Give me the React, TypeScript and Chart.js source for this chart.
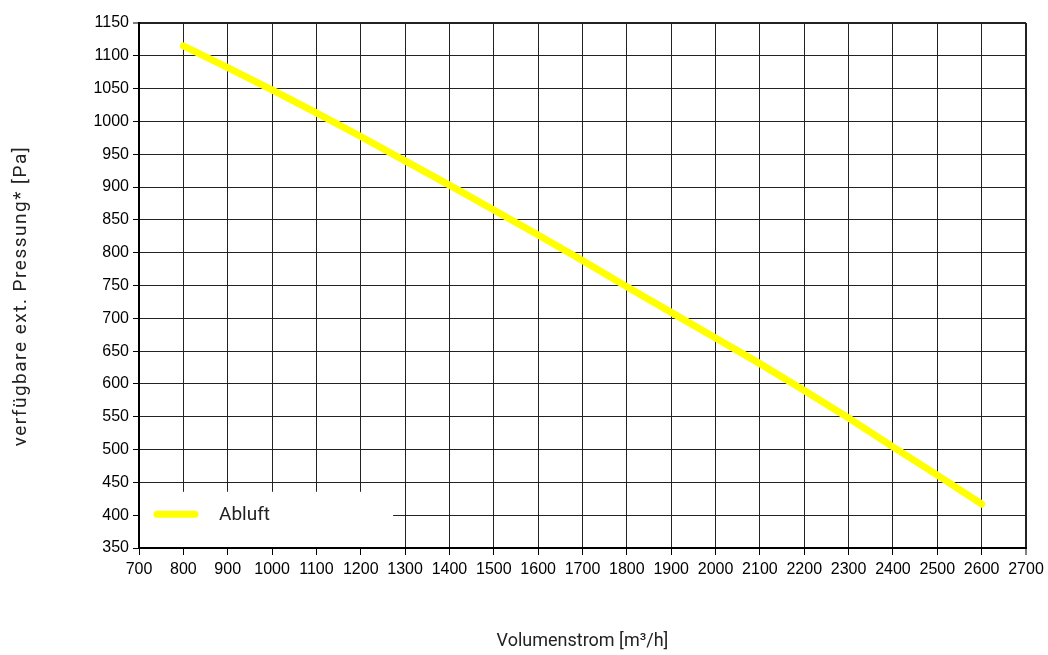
import React, { useEffect, useRef } from "react";
import { Chart, registerables } from "chart.js";

Chart.register(...registerables);

const xValues = [800, 900, 1000, 1100, 1200, 1300, 1400, 1500, 1600, 1700, 1800, 1900, 2000, 2100, 2200, 2300, 2400, 2500, 2600];
const abluft = [1115, 1082, 1048, 1013, 977, 940, 903, 865, 827, 788, 748, 709, 670, 631, 590, 548, 504, 461, 417];
const seriesLabel = "Abluft";
const xTitle = "Volumenstrom [m³/h]";
const yTitle = "verfügbare ext. Pressung* [Pa]";
const xMin = 700, xMax = 2700, xStep = 100;
const yMin = 350, yMax = 1150, yStep = 50;

const overlayPlugin = {
  id: "overlay",
  beforeDatasetsDraw(chart: any) {
    const { ctx, chartArea, scales } = chart;
    const x = scales.x;
    const y = scales.y;
    const bx0 = chartArea.left + 1;
    const bx1 = x.getPixelForValue(1300) - 12;
    const by0 = y.getPixelForValue(425) - 7;
    const by1 = chartArea.bottom - 1;
    ctx.save();
    ctx.fillStyle = "#ffffff";
    ctx.fillRect(bx0, by0, bx1 - bx0, by1 - by0);
    ctx.restore();
  },
  afterDraw(chart: any) {
    const { ctx, chartArea, scales } = chart;
    const y = scales.y;
    const ly = y.getPixelForValue(400) - 1;
    ctx.save();
    ctx.strokeStyle = "#ffff00";
    ctx.lineWidth = 7;
    ctx.lineCap = "round";
    ctx.beginPath();
    ctx.moveTo(chartArea.left + 18, ly);
    ctx.lineTo(chartArea.left + 56, ly);
    ctx.stroke();
    ctx.fillStyle = "#222222";
    ctx.font = "19px Roboto";
    ctx.textAlign = "left";
    ctx.textBaseline = "middle";
    ctx.fillText(seriesLabel, chartArea.left + 80, ly + 1);

    ctx.fillStyle = "#222222";
    ctx.font = "18px Roboto";
    ctx.textAlign = "center";
    ctx.textBaseline = "middle";
    ctx.fillText(xTitle, (chartArea.left + chartArea.right) / 2, 641);

    ctx.translate(21, 296);
    ctx.rotate(-Math.PI / 2);
    ctx.font = "19px Roboto";
    (ctx as any).letterSpacing = "1.5px";
    ctx.fillText(yTitle, 0, 0);
    ctx.restore();
  },
};

export default function App() {
  const ref = useRef<HTMLCanvasElement>(null);
  useEffect(() => {
    if (!ref.current) return;
    const lastX = (xMax - xMin) / xStep;
    const lastY = (yMax - yMin) / yStep;
    const chart = new Chart(ref.current, {
      type: "line",
      data: {
        datasets: [
          {
            label: seriesLabel,
            data: xValues.map((v, i) => ({ x: v, y: abluft[i] })),
            borderColor: "#ffff00",
            backgroundColor: "#ffff00",
            borderWidth: 7,
            borderCapStyle: "round",
            borderJoinStyle: "round",
            pointRadius: 0,
            tension: 0,
          },
        ],
      },
      options: {
        animation: false,
        responsive: false,
        layout: { padding: { top: 23, right: 22, left: 0, bottom: 0 } },
        plugins: { legend: { display: false }, tooltip: { enabled: false } },
        scales: {
          x: {
            type: "linear",
            min: xMin,
            max: xMax,
            ticks: {
              stepSize: xStep,
              color: "#000",
              font: { family: "'Liberation Sans'", size: 16 },
              padding: 5,
              maxRotation: 0,
              autoSkip: false,
              callback: (v: any) => String(v),
            },
            grid: {
              color: "#222",
              lineWidth: (c: any) => (c.index === lastX ? 2 : 1),
              tickLength: 7,
              tickColor: "#000",
              tickWidth: 1,
            },
            border: { color: "#000", width: 2 },
            afterFit: (s: any) => { s.height = 107; s.paddingLeft = 0; s.paddingRight = 0; },
          },
          y: {
            min: yMin,
            max: yMax,
            ticks: {
              stepSize: yStep,
              color: "#000",
              font: { family: "'Liberation Sans'", size: 16 },
              padding: 4,
              autoSkip: false,
              callback: (v: any) => String(v),
            },
            grid: {
              color: "#222",
              lineWidth: (c: any) => (c.index === lastY ? 2 : 1),
              tickLength: 6,
              tickColor: "#000",
              tickWidth: 1,
            },
            border: { color: "#000", width: 2 },
            afterFit: (s: any) => { s.width = 139; s.paddingTop = 0; s.paddingBottom = 0; },
          },
        },
      } as any,
      plugins: [overlayPlugin],
    });
    return () => chart.destroy();
  }, []);
  return (
    <div style={{ position: "fixed", left: 0, top: 0, width: 1048, height: 655, background: "#fff" }}>
      <canvas ref={ref} width={1048} height={655} style={{ width: 1048, height: 655 }} />
    </div>
  );
}
